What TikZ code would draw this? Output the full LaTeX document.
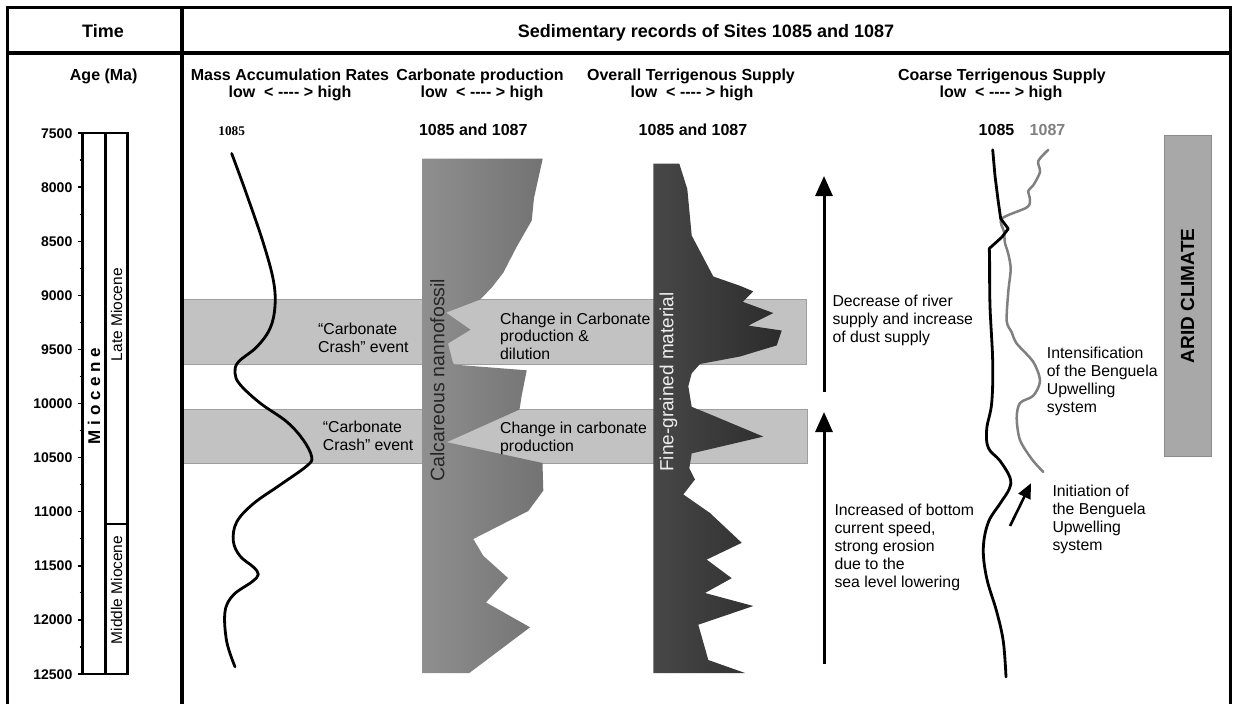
\documentclass[tikz,border=0pt]{standalone}
\usepackage{fontspec}
\setmainfont{Liberation Sans}
\newfontfamily\serifnum{Liberation Serif}
\usetikzlibrary{arrows.meta}
\definecolor{bandgray}{gray}{0.76}
\definecolor{bandedge}{gray}{0.62}
\definecolor{carbL}{gray}{0.56}
\definecolor{carbR}{gray}{0.45}
\definecolor{fineL}{gray}{0.28}
\definecolor{fineR}{gray}{0.17}
\definecolor{cgray}{gray}{0.5}
\definecolor{aridfill}{gray}{0.66}
\definecolor{aridedge}{gray}{0.55}
\definecolor{calctxt}{gray}{0.15}
\definecolor{finetxt}{gray}{0.93}
\newcommand{\bodyfnt}{\fontsize{15.8}{17.8}\selectfont}
\newcommand{\ttlfnt}{\bfseries\fontsize{16}{18}\selectfont}
\newcommand{\hdfnt}{\bfseries\fontsize{18}{20}\selectfont}
\newcommand{\tickfnt}{\bfseries\fontsize{14}{16}\selectfont}
\newcommand{\lowhigh}{low~~<~-{}-{}-{}-~>~high}
\begin{document}
\begin{tikzpicture}[x=1pt,y=-1pt,
  frameln/.style={line width=3.6pt},
  axisln/.style={line width=2.6pt},
  bandbox/.style={fill=bandgray, draw=bandedge, line width=0.8pt},
  bodytxt/.style={inner sep=0pt, font=\bodyfnt, align=left, anchor=north west},
  ttl/.style={inner sep=0pt, font=\ttlfnt, anchor=base},
  ticklbl/.style={inner sep=0pt, font=\tickfnt, anchor=base east},
  curvln/.style={line width=2.8pt, line cap=round, line join=round},
  bigarrow/.style={line width=3pt, -{Triangle[width=17pt,length=20pt]}},
  smallarrow/.style={line width=2.6pt, -{Triangle[width=13pt,length=15pt]}},
]
\useasboundingbox (0,0) rectangle (1234,704);
\fill[white] (0,0) rectangle (1234,704);

% event bands
\draw[bandbox] (183,299.5) rectangle (806,364.7);
\draw[bandbox] (183,409.5) rectangle (807,463);

% carbonate production
\shade[left color=carbL, right color=carbR] plot coordinates {
 (422.7,158.7) (542.7,158.7) (534,198) (531.7,220.6) (516.7,246.7) (503.3,272.7)
 (491.7,287.6) (481.7,298) (479,300) (446,312.6) (470.5,329.7) (448,343.5)
 (453,363) (455,364.7) (526.7,370.3) (521.7,395.6) (519.5,409.5) (446.7,442.2)
 (542.5,463) (543.3,490.6) (528.3,511) (473.3,539) (483.3,555.8) (508,578)
 (486,602.4) (530,627.3) (469.3,673) (422.7,673)} -- cycle;

% overall terrigenous supply
\shade[left color=fineL, right color=fineR] plot coordinates {
 (653.3,163.6) (679.3,163.6) (687.3,189) (691.7,235.5) (713.3,276.5) (740,285.8)
 (753.3,291.4) (742.7,301.8) (773.3,313) (748.3,325.6) (781.7,330.5) (776.7,345.4)
 (740,356.5) (700,364) (691.7,373.3) (688.3,386.3) (691.7,406.8) (710,414.3)
 (763.3,436.6) (723.3,446) (691.7,453.4) (689.3,468.3) (695,479.5) (683.3,494.4)
 (710,513) (741.7,542.8) (706.7,559.6) (731.7,578.2) (705,593) (753.3,606)
 (698.3,624.7) (708.3,660) (745,673) (653.3,673)} -- cycle;

% header texts
\node[inner sep=0pt, font=\hdfnt, anchor=base] (time) at (103,37.1) {Time};
\node[inner sep=0pt, font=\hdfnt, anchor=base] (sedi) at (706,37.1) {Sedimentary records of Sites 1085 and 1087};
\node[ttl] (age) at (103.7,80.7) {Age (Ma)};
\node[ttl] (mar) at (290,80.7) {Mass Accumulation Rates};
\node[ttl] (marlh) at (290,97.4) {\lowhigh};
\node[ttl] (carb) at (480,80.7) {Carbonate production};
\node[ttl] (carblh) at (482,97.4) {\lowhigh};
\node[ttl] (ots) at (691,80.7) {Overall Terrigenous Supply};
\node[ttl] (otslh) at (692,97.4) {\lowhigh};
\node[ttl] (cts) at (1002,80.7) {Coarse Terrigenous Supply};
\node[ttl] (ctslh) at (1001,97.4) {\lowhigh};

% site labels
\node[inner sep=0pt, font=\serifnum\bfseries\fontsize{13.3}{15}\selectfont, anchor=base] (s1) at (231.7,135.5) {1085};
\node[ttl] (s2) at (473.3,135.5) {1085 and 1087};
\node[ttl] (s3) at (693,135.5) {1085 and 1087};
\node[ttl] (s4) at (996.5,135.5) {1085};
\node[ttl, text=cgray] (s5) at (1047.5,135.5) {1087};

% age axis
\foreach \i/\lab in {0/7500,1/8000,2/8500,3/9000,4/9500,5/10000,6/10500,7/11000,8/11500,9/12000,10/12500}{
  \draw[line width=1.4pt] (77.5,133+\i*54.1) -- (82.5,133+\i*54.1);
  \node[ticklbl] (t\i) at (72.5,133+\i*54.1+5) {\lab};
}
\foreach \i in {0,...,9}{
  \draw[line width=1.2pt] (79.5,160+\i*54.1) -- (82.5,160+\i*54.1);
}
\draw[axisln] (82.5,133) rectangle (127.7,674);
\draw[axisln] (105.3,133) -- (105.3,674);
\draw[axisln] (105.3,524) -- (127.7,524);
\node[rotate=90, inner sep=0pt, font=\bfseries\fontsize{17}{17}\selectfont] (mio) at (94,396) {M i o c e n e};
\node[rotate=90, inner sep=0pt, font=\fontsize{15.5}{15.5}\selectfont] (late) at (116.7,314.7) {Late Miocene};
\node[rotate=90, inner sep=0pt, font=\fontsize{15.5}{15.5}\selectfont] (mid) at (116.7,590) {Middle Miocene};

% band texts
\node[bodytxt] (cc1) at (318,323.3) {“Carbonate\\Crash” event};
\node[bodytxt] (cc2) at (322.7,421) {“Carbonate\\Crash” event};
\node[bodytxt] (cic1) at (500,312.5) {Change in Carbonate\\production \&\\dilution};
\node[bodytxt] (cic2) at (500,422) {Change in carbonate\\production};

% rotated column texts
\node[rotate=90, inner sep=0pt, text=calctxt, font=\fontsize{19.5}{19.5}\selectfont] (calc) at (437.3,380) {Calcareous nannofossil};
\node[rotate=90, inner sep=0pt, text=finetxt, font=\fontsize{19}{19}\selectfont] (fine) at (668.5,382) {Fine-grained material};

% MAR curve
\draw[curvln] plot[smooth, tension=0.6] coordinates {(231.7,153.5) (246.7,194.5) (263.3,243) (273.3,280) (275,306) (270,328.6) (256.7,347) (238.3,362) (235,373) (240,384.5) (260,403) (286.7,421.7) (303.3,440) (311.7,457) (306.7,466) (280,485) (253.3,503.7) (236.7,522) (233.3,541) (240,556) (253.3,567) (258.3,574.5) (251.7,582) (233.3,595) (225,611.7) (226.7,641.5) (235,666.8)};

% big arrows
\coordinate (a1s) at (824,392);
\coordinate (a1e) at (824,176);
\coordinate (a2s) at (824,664);
\coordinate (a2e) at (824,412);
\draw[bigarrow] (a1s) -- (a1e);
\draw[bigarrow] (a2s) -- (a2e);
\node[bodytxt] (dec) at (832.3,295) {Decrease of river\\supply and increase\\of dust supply};
\node[bodytxt] (inc) at (834.3,504.3) {Increased of bottom\\current speed,\\strong erosion\\due to the\\sea level lowering};

% coarse terrigenous supply curves
\draw[curvln, draw=cgray, line width=2.5pt] plot[smooth, tension=0.5] coordinates {(1048.3,149.8) (1038.3,161) (1040,172) (1033.3,185.2) (1028.3,190.8) (1030,200) (1026.7,207.5) (1001.7,218.7) (1004,231.8) (1005,243) (1008.3,254) (1010.7,269) (1008.3,291.4) (1006.7,321) (1011.7,332.3) (1016.7,343.5) (1033.3,362) (1040,380.8) (1033.3,395.7) (1020,403) (1016.7,418) (1020,440) (1031.7,459) (1043.3,472)};
\draw[curvln] (992.7,149.8) -- (995,175.9) -- (998.3,202) -- (1000.7,218.7) -- (1008.3,228.8) -- (1001.7,237.3) -- (989.3,248.5) -- plot[smooth, tension=0.6] coordinates {(989.6,262) (990,306) (992.7,362) (991.7,403) (986.7,429) (988.3,447.8) (1000,460.8) (1010,477.6) (1009.3,488.8) (1000,503.7) (988.3,522.3) (983.3,548.4) (986.7,578.2) (996.7,611.7) (1003.3,641.5) (1006,676.9)};
\coordinate (sas) at (1010,526);
\coordinate (sae) at (1031,483.2);
\draw[smallarrow] (sas) -- (sae);
\node[bodytxt] (intens) at (1046.7,347) {Intensification\\of the Benguela\\Upwelling\\system};
\node[bodytxt] (init) at (1052.3,485) {Initiation of\\the Benguela\\Upwelling\\system};

% arid climate
\draw[fill=aridfill, draw=aridedge, line width=0.8pt] (1164,135) rectangle (1211.7,456.7);
\node[rotate=90, inner sep=0pt, font=\bfseries\fontsize{19}{19}\selectfont] (arid) at (1187.5,296) {ARID CLIMATE};

% frame
\draw[frameln] (7.5,704) -- (7.5,7.5) -- (1230.5,7.5) -- (1230.5,704);
\draw[frameln] (7.5,53) -- (1230.5,53);
\draw[frameln] (182,7.5) -- (182,704);
\end{tikzpicture}
\end{document}
